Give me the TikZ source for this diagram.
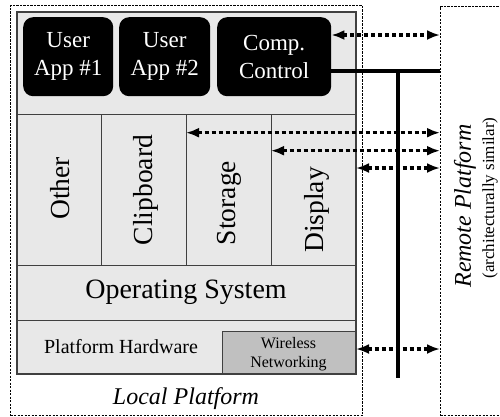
\documentclass[tikz,border=0pt]{standalone}
\usepackage{fontspec}
\setmainfont{Liberation Serif}
\usetikzlibrary{arrows.meta}
\definecolor{panel}{HTML}{E8E8E8}
\definecolor{wire}{HTML}{C0C0C0}
\definecolor{edgegray}{HTML}{404040}
\tikzset{
  platbox/.style={draw=black, line width=1pt, dash pattern=on 2.2pt off 1.3pt, anchor=north west, inner sep=0pt},
  cell/.style={draw=edgegray, line width=1pt, fill=panel, anchor=north west, inner sep=0pt},
  appbox/.style={fill=black, rounded corners=10pt, anchor=north west, inner sep=0pt, text=white, align=center, font=\fontsize{23}{28}\selectfont},
  collabel/.style={rotate=90, inner sep=0pt, font=\fontsize{27.5}{32}\selectfont},
  datalink/.style={line width=3.5pt, dash pattern=on 4pt off 3pt, {Latex[length=13pt,width=10pt]}-{Latex[length=13pt,width=10pt]}},
  bus/.style={line width=4pt, draw=black}
}
\begin{document}
\begin{tikzpicture}[x=1pt,y=-1pt]
\useasboundingbox (0,0) rectangle (500,416);
\fill[white] (0,0) rectangle (500,416);
\clip (0,0) rectangle (500,416);
% platforms
\node[platbox, minimum width=352pt, minimum height=410pt] (local) at (10,5) {};
\node[platbox, minimum width=80pt, minimum height=409pt] (remote) at (440,6) {};
% stack
\node[cell, minimum width=338pt, minimum height=102pt] (apps) at (17,12) {};
\node[cell, minimum width=84pt, minimum height=151pt] (other) at (17,114) {};
\node[cell, minimum width=85pt, minimum height=151pt] (clip) at (101,114) {};
\node[cell, minimum width=85pt, minimum height=151pt] (storage) at (186,114) {};
\node[cell, minimum width=84pt, minimum height=151pt] (display) at (271,114) {};
\node[cell, minimum width=338pt, minimum height=55pt] (os) at (17,265) {};
\node[cell, minimum width=338pt, minimum height=53pt] (hw) at (17,320) {};
\node[cell, fill=wire, minimum width=133pt, minimum height=42pt] (wireless) at (222,331) {};
\draw[edgegray, line width=1.6pt] (apps.north west) rectangle (hw.south east);
% apps
\node[appbox, minimum width=90pt, minimum height=79pt] (app1) at (23,17) {User\\App \#1};
\node[appbox, minimum width=91pt, minimum height=79pt] (app2) at (119,17) {User\\App \#2};
\node[appbox, minimum width=114pt, minimum height=79pt] (comp) at (217,17) {Comp.\\Control};
% labels
\node[collabel] (lother) at (60,188.5) {Other};
\node[collabel] (lclip) at (146,190) {Clipboard};
\node[collabel] (lstor) at (229,203) {Storage};
\node[collabel] (ldisp) at (317,210) {Display};
\node[font=\fontsize{28}{32}\selectfont, inner sep=0pt] (los) at (186,292.5) {Operating System};
\node[font=\fontsize{20}{24}\selectfont, inner sep=0pt] (lhw) at (121,347) {Platform Hardware};
\node[font=\fontsize{16}{18.5}\selectfont, align=center, inner sep=0pt] (lwire) at (288.5,354) {Wireless\\Networking};
\node[font=\itshape\fontsize{24}{28}\selectfont, inner sep=0pt] (llocal) at (186,399) {Local Platform};
\node[rotate=90, font=\itshape\fontsize{24}{28}\selectfont, inner sep=0pt] (lremote) at (465,206) {Remote Platform};
\node[rotate=90, font=\fontsize{17}{20}\selectfont, inner sep=0pt] (lsim) at (490,198) {(architecturally similar)};
% bus
\coordinate (b1) at (440,71);
\coordinate (bt) at (398,71);
\coordinate (bb) at (398,378);
\draw[bus] (b1 -| comp.east) -- (b1 -| remote.west);
\draw[bus] (bt) -- (bb);
% data links
\coordinate (r1) at (440,35);
\coordinate (r2) at (440,132.7);
\coordinate (r3) at (440,150.7);
\coordinate (r4) at (440,168);
\coordinate (r5) at (440,349);
\draw[datalink] (r1 -| comp.east) -- (r1 -| remote.west);
\draw[datalink] (r2 -| storage.west) -- (r2 -| remote.west);
\draw[datalink] (r3 -| display.west) -- (r3 -| remote.west);
\draw[datalink] (r4 -| display.east) -- (r4 -| remote.west);
\draw[datalink] (r5 -| wireless.east) -- (r5 -| remote.west);
\end{tikzpicture}
\end{document}
